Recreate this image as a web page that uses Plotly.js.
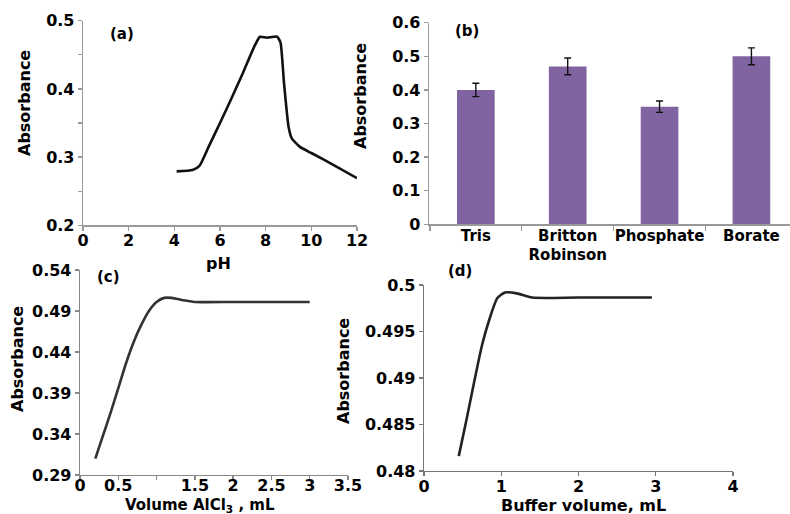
<!DOCTYPE html>
<html>
<head>
<meta charset="utf-8">
<script src="https://cdn.plot.ly/plotly-3.0.1.min.js"></script>
<style>html,body{margin:0;padding:0;background:#fff;}#chart{width:790px;height:514px;}</style>
</head>
<body>
<div id="chart"></div>
<script>
// Panel (a): absorbance vs pH
const phX = [4.1, 4.8, 5.1, 5.5, 6.0, 6.5, 7.0, 7.5, 7.75, 8.05, 8.5, 8.65, 8.8, 9.0, 9.15, 9.5, 10.0, 11.0, 12.0];
const phY = [0.279, 0.281, 0.287, 0.315, 0.35, 0.386, 0.423, 0.462, 0.4765, 0.475, 0.4765, 0.468, 0.41, 0.345, 0.327, 0.315, 0.306, 0.288, 0.269];
const phXTicks = [0, 2, 4, 6, 8, 10, 12];
const phXTickText = ["0", "2", "4", "6", "8", "10", "12"];
const phTickVals = [0.2, 0.25, 0.3, 0.35, 0.4, 0.45, 0.5];
const phTickText = ["0.2", "", "0.3", "", "0.4", "", "0.5"];

// Panel (b): buffer type
const bufferNames = ["Tris", "Britton<br>Robinson", "Phosphate", "Borate"];
const bufferAbs = [0.40, 0.47, 0.35, 0.50];
const bufferErr = [0.02, 0.025, 0.017, 0.025];
const bufTickVals = [0, 0.1, 0.2, 0.3, 0.4, 0.5, 0.6];
const bufTickText = ["0", "0.1", "0.2", "0.3", "0.4", "0.5", "0.6"];

// Panel (c): volume of AlCl3
const alX = [0.2, 0.3, 0.4, 0.5, 0.6, 0.7, 0.8, 0.9, 1.0, 1.1, 1.2, 1.35, 1.5, 2.0, 2.5, 3.0];
const alY = [0.31, 0.338, 0.366, 0.396, 0.426, 0.452, 0.473, 0.49, 0.501, 0.506, 0.506, 0.503, 0.501, 0.501, 0.501, 0.501];
const alTickVals = [0, 0.5, 1, 1.5, 2, 2.5, 3, 3.5];
const alTickText = ["0", "0.5", "", "1.5", "2", "2.5", "3", "3.5"];
const alYTickVals = [0.29, 0.34, 0.39, 0.44, 0.49, 0.54];
const alYTickText = ["0.29", "0.34", "0.39", "0.44", "0.49", "0.54"];

// Panel (d): buffer volume
const bvX = [0.45, 0.55, 0.65, 0.75, 0.85, 0.95, 1.05, 1.2, 1.4, 2.0, 2.95];
const bvY = [0.4816, 0.4855, 0.4896, 0.4935, 0.4964, 0.4986, 0.4992, 0.4991, 0.49865, 0.49865, 0.49865];
const bvXTicks = [0, 1, 2, 3, 4];
const bvXTickText = ["0", "1", "2", "3", "4"];
const bvTickVals = [0.48, 0.485, 0.49, 0.495, 0.5];
const bvTickText = ["0.48", "0.485", "0.49", "0.495", "0.5"];

const W = 790, H = 514;
const fx = p => p / W;
const fy = p => 1 - p / H;
const B = t => (t === "" ? " " : "<b>" + t + "</b>");

const FONT = "DejaVu Sans";
const tickFont = {family: FONT, size: 16, color: "#000"};

function axisBase(color) {
  return {
    showgrid: false, zeroline: false, showline: true, linecolor: color, linewidth: 1.3,
    ticks: "outside", ticklen: 4, tickcolor: color, tickwidth: 1.3,
    tickfont: tickFont, fixedrange: true, tickangle: 0
  };
}

const traces = [
  {x: phX, y: phY, type: "scatter", mode: "lines", xaxis: "x", yaxis: "y",
   line: {color: "#111", width: 2.6, shape: "spline", smoothing: 0.5}, showlegend: false},
  {x: bufferNames.map(B), y: bufferAbs, type: "bar", xaxis: "x2", yaxis: "y2", width: 0.41,
   marker: {color: "#8064A2"},
   error_y: {type: "data", array: bufferErr, visible: true, color: "#111", thickness: 1.4, width: 3.5},
   showlegend: false},
  {x: alX, y: alY, type: "scatter", mode: "lines", xaxis: "x3", yaxis: "y3",
   line: {color: "#333", width: 2.6, shape: "spline", smoothing: 0.6}, showlegend: false},
  {x: bvX, y: bvY, type: "scatter", mode: "lines", xaxis: "x4", yaxis: "y4",
   line: {color: "#222", width: 2.6, shape: "spline", smoothing: 0.6}, showlegend: false}
];

function ann(text, x, y, angle, size) {
  return {text: "<b>" + text + "</b>", x: fx(x), y: fy(y), xref: "paper", yref: "paper", showarrow: false,
    textangle: angle || 0, xanchor: "center", yanchor: "middle",
    font: {family: FONT, size: size || 16, color: "#000"}};
}

const layout = {
  width: W, height: H,
  margin: {l: 0, r: 0, t: 0, b: 0},
  paper_bgcolor: "#fff", plot_bgcolor: "rgba(0,0,0,0)",
  showlegend: false,
  xaxis: Object.assign(axisBase("#999"), {domain: [fx(83), fx(357)], range: [0, 12], tickvals: phXTicks, ticktext: phXTickText.map(B), ticklabelstandoff: -4, anchor: "y"}),
  yaxis: Object.assign(axisBase("#999"), {domain: [fy(225.3), fy(20.7)], range: [0.2, 0.5], tickvals: phTickVals, ticktext: phTickText.map(B), anchor: "x"}),
  xaxis2: Object.assign(axisBase("#999"), {domain: [fx(429), 1], range: [-0.51, 3.42], type: "category", tickson: "boundaries", ticklen: 5, ticklabelstandoff: -3, tickfont: Object.assign({}, tickFont, {size: 15}), anchor: "y2"}),
  yaxis2: Object.assign(axisBase("#999"), {domain: [fy(224.3), fy(22.7)], range: [0, 0.6], tickvals: bufTickVals, ticktext: bufTickText.map(B), anchor: "x2"}),
  xaxis3: Object.assign(axisBase("#888"), {domain: [fx(80), fx(348)], range: [0, 3.5], tickvals: alTickVals, ticktext: alTickText.map(B), ticklabelstandoff: -9, anchor: "y3"}),
  yaxis3: Object.assign(axisBase("#888"), {domain: [fy(475), fy(270)], range: [0.29, 0.54], tickvals: alYTickVals, ticktext: alYTickText.map(B), anchor: "x3"}),
  xaxis4: Object.assign(axisBase("#777"), {domain: [fx(424), fx(733)], range: [0, 4], tickvals: bvXTicks, ticktext: bvXTickText.map(B), ticklabelstandoff: -4, anchor: "y4"}),
  yaxis4: Object.assign(axisBase("#777"), {domain: [fy(471), fy(285)], range: [0.48, 0.5], tickvals: bvTickVals, ticktext: bvTickText.map(B), anchor: "x4"}),
  annotations: [
    ann("(a)", 122, 34, 0, 15),
    ann("(b)", 467, 31, 0, 15),
    ann("(c)", 108, 277, 0, 15),
    ann("(d)", 460, 271, 0, 15),
    ann("Absorbance", 25, 103, -90, 16),
    ann("Absorbance", 360, 96, -90, 16),
    ann("Absorbance", 17, 359, -90, 16),
    ann("Absorbance", 343, 371, -90, 16),
    ann("pH", 218, 263, 0, 16),
    ann("Volume AlCl<sub>3</sub> , mL", 200, 505, 0, 15),
    ann("Buffer volume, mL", 583, 505, 0, 16)
  ]
};

Plotly.newPlot("chart", traces, layout, {displayModeBar: false, staticPlot: true});
</script>
</body>
</html>
